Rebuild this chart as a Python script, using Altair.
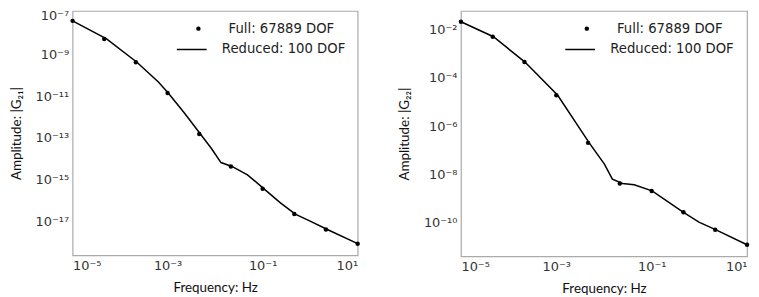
import altair as alt
import pandas as pd

# ---------------- data ----------------
marker_freq = [1e-5, 4.64e-5, 2.15e-4, 1e-3, 4.64e-3, 2.15e-2, 0.1, 0.464, 2.15, 10]

g21_full = [4.3e-8, 5.8e-9, 4.4e-10, 1.45e-11, 1.55e-13, 4.3e-15, 3.6e-16, 2.2e-17, 4.0e-18, 8.3e-19]
g21_line_freq = [1e-5, 5.2e-5, 2.26e-4, 6.4e-4, 1.03e-3, 2.3e-3, 4.9e-3, 8.3e-3, 1.33e-2,
                 2.26e-2, 4.8e-2, 0.107, 0.237, 0.486, 1.0, 2.3, 10]
g21_reduced = [4.3e-8, 5.8e-9, 4.4e-10, 4.9e-11, 1.45e-11, 1.5e-12, 1.55e-13, 3.2e-14, 6.6e-15,
               4.3e-15, 1.7e-15, 3.6e-16, 7.6e-17, 2.2e-17, 1.0e-17, 4.0e-18, 8.3e-19]

g22_full = [2.2e-2, 5.2e-3, 4.6e-4, 1.9e-5, 2.0e-7, 4.1e-9, 2.0e-9, 2.6e-10, 4.8e-11, 1.15e-11]
g22_line_freq = [1e-5, 4.8e-5, 2.2e-4, 1.07e-3, 4.9e-3, 1.02e-2, 1.5e-2, 2.45e-2, 4.3e-2,
                 0.102, 0.457, 0.98, 2.24, 10]
g22_reduced = [2.2e-2, 5.2e-3, 4.6e-4, 1.9e-5, 2.0e-7, 2.6e-8, 6.2e-9, 4.1e-9, 3.6e-9,
               2.0e-9, 2.6e-10, 1.0e-10, 4.8e-11, 1.15e-11]

full_name = "Full: 67889 DOF"
reduced_name = "Reduced: 100 DOF"
x_tick_exps = [-5, -3, -1, 1]
g21_tick_exps = [-7, -9, -11, -13, -15, -17]
g22_tick_exps = [-2, -4, -6, -8, -10]
g21_domain = [10 ** -18.64, 10 ** -6.89]
g22_domain = [10 ** -11.42, 10 ** -1.21]

SUP = {"-": "\u207b", "0": "\u2070", "1": "\u00b9", "2": "\u00b2", "3": "\u00b3",
       "4": "\u2074", "5": "\u2075", "6": "\u2076", "7": "\u2077", "8": "\u2078", "9": "\u2079"}


def label_expr(exps):
    expr = "''"
    for e in exps:
        txt = "10" + "".join(SUP[c] for c in str(e))
        expr = f"(round(log(datum.value)/LN10) == {e}) ? '{txt}' : " + expr
    return expr


LEG_COMMON = dict(title=None, orient="none", padding=0,
                  labelFont="DejaVu Sans", labelFontSize=13.3, labelColor="#222")


def panel(line_f, line_a, full_a, domain, tick_exps, ytitle, w, h, top_label_shift):
    line_df = pd.DataFrame({"f": line_f, "a": line_a, "s": reduced_name})
    pt_df = pd.DataFrame({"f": marker_freq, "a": full_a, "s": full_name})
    x = alt.X("f:Q", scale=alt.Scale(type="log", domain=[1e-5, 10], nice=False),
              axis=alt.Axis(values=[10.0 ** e for e in x_tick_exps], labelExpr=label_expr(x_tick_exps),
                            title="Frequency: Hz", labelPadding=4.5, titlePadding=7.5))
    top_val = 10.0 ** max(tick_exps)
    y = alt.Y("a:Q", scale=alt.Scale(type="log", domain=domain, nice=False),
              axis=alt.Axis(values=[10.0 ** e for e in tick_exps], labelExpr=label_expr(tick_exps),
                            labelOffset={"condition": {"test": f"datum.value > {top_val * 0.5}",
                                                       "value": top_label_shift}, "value": 0},
                            title=ytitle, labelPadding=4, titlePadding=12))
    line = alt.Chart(line_df).mark_line(strokeWidth=1.5).encode(
        x=x, y=y,
        color=alt.Color("s:N", scale=alt.Scale(domain=[reduced_name], range=["black"]),
                        legend=alt.Legend(symbolType="stroke", symbolSize=900,
                                          symbolStrokeWidth=1.5, labelOffset=14.3,
                                          legendX=104, legendY=22.8, **LEG_COMMON)),
    )
    pts = alt.Chart(pt_df).mark_circle(size=20, opacity=1).encode(
        x=x, y=y,
        color=alt.Color("s:N", scale=alt.Scale(domain=[full_name], range=["black"]),
                        legend=alt.Legend(symbolType="circle", symbolSize=20,
                                          symbolOpacity=1, labelOffset=23.75,
                                          legendX=120.05, legendY=11.15, **LEG_COMMON)),
    )
    return alt.layer(line, pts).resolve_scale(color="independent").properties(width=w, height=h)


left = panel(g21_line_freq, g21_reduced, g21_full, g21_domain, g21_tick_exps,
             "Amplitude: |G\u2082\u2081|", 287, 246, 2)
right = panel(g22_line_freq, g22_reduced, g22_full, g22_domain, g22_tick_exps,
              "Amplitude: |G\u2082\u2082|", 288, 247, 0)

chart = alt.hconcat(left, right, spacing=35).resolve_scale(
    color="independent"
).resolve_legend(color="independent").properties(
    padding={"left": 0, "top": -1, "right": 0, "bottom": 0},
    background="white",
).configure_view(stroke="#aaaaaa", strokeWidth=1.2).configure_axis(
    domain=False, ticks=False, grid=False,
    labelFont="DejaVu Sans", labelFontSize=13, labelColor="#333",
    titleFont="Lato", titleFontSize=13.5, titleFontWeight="normal", titleColor="#111",
)

chart.save("out.html", embed_options={"renderer": "svg", "actions": False})
